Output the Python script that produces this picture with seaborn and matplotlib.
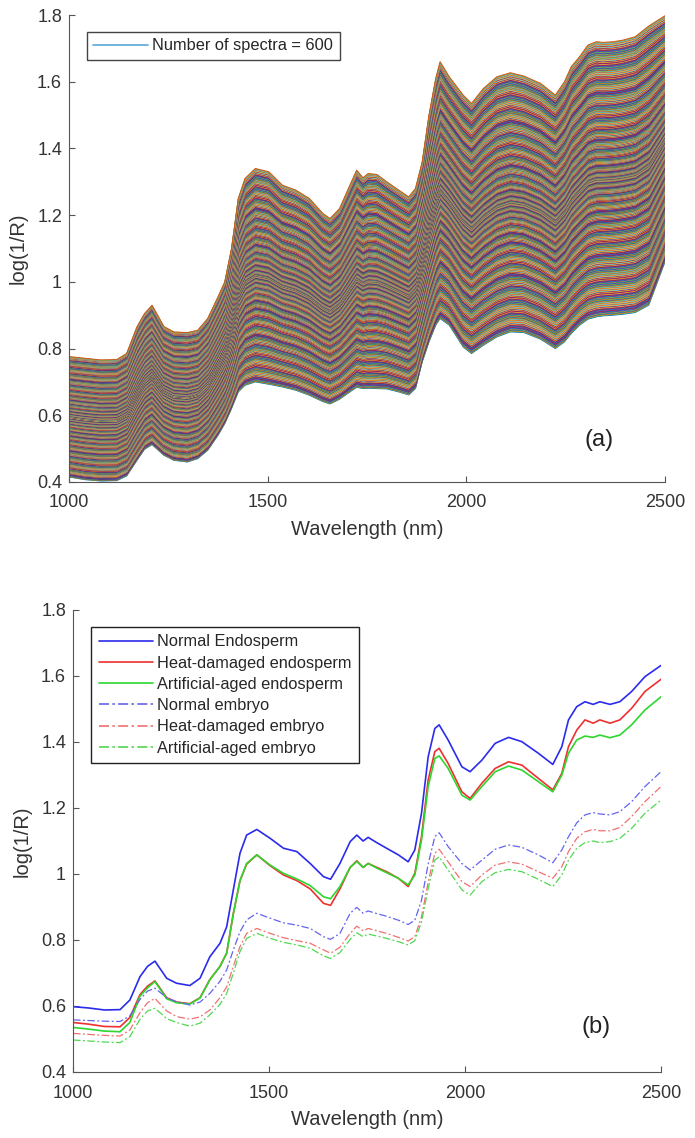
import numpy as np
import pandas as pd
import seaborn as sns
import matplotlib.pyplot as plt
from matplotlib.lines import Line2D
from matplotlib.ticker import FuncFormatter

sns.set_style("ticks")
plt.rcParams['font.family'] = ['Liberation Sans', 'DejaVu Sans']

wavelength = [1000, 1040, 1080, 1120, 1145, 1171, 1190, 1209, 1239, 1264,
              1298, 1324, 1349, 1375, 1392, 1409, 1426, 1443, 1469, 1503,
              1537, 1571, 1605, 1639, 1657, 1681, 1707, 1724, 1740, 1753,
              1775, 1800, 1830, 1855, 1872, 1889, 1906, 1923, 1934, 1957,
              1992, 2013, 2043, 2077, 2111, 2145, 2187, 2224, 2247, 2264,
              2285, 2306, 2327, 2344, 2370, 2395, 2425, 2459, 2500]

# panel (a): highest and lowest of the 600 spectra
upper_spectrum = [0.776, 0.771, 0.766, 0.767, 0.785, 0.865, 0.905, 0.93, 0.866, 0.85,
                  0.848, 0.855, 0.89, 0.955, 1.00, 1.10, 1.25, 1.31, 1.34, 1.33,
                  1.29, 1.275, 1.25, 1.205, 1.19, 1.22, 1.29, 1.335, 1.312, 1.325,
                  1.322, 1.30, 1.275, 1.255, 1.28, 1.36, 1.50, 1.61, 1.66, 1.615,
                  1.56, 1.535, 1.58, 1.615, 1.627, 1.617, 1.595, 1.56, 1.60, 1.645,
                  1.675, 1.71, 1.72, 1.718, 1.72, 1.725, 1.735, 1.767, 1.798]
lower_spectrum = [0.415, 0.407, 0.403, 0.404, 0.418, 0.465, 0.498, 0.512, 0.48, 0.465,
                  0.46, 0.47, 0.495, 0.54, 0.575, 0.62, 0.67, 0.69, 0.70, 0.693,
                  0.685, 0.675, 0.66, 0.641, 0.634, 0.648, 0.67, 0.684, 0.68, 0.681,
                  0.68, 0.679, 0.67, 0.661, 0.68, 0.76, 0.82, 0.87, 0.89, 0.87,
                  0.805, 0.785, 0.81, 0.835, 0.85, 0.848, 0.828, 0.80, 0.82, 0.845,
                  0.87, 0.888, 0.895, 0.898, 0.90, 0.903, 0.908, 0.93, 1.06]
n_spectra = 600

# panel (b): mean spectra
normal_endo = [0.598, 0.594, 0.588, 0.589, 0.618, 0.689, 0.72, 0.736, 0.684, 0.669,
               0.662, 0.684, 0.749, 0.79, 0.84, 0.952, 1.063, 1.118, 1.135, 1.108,
               1.078, 1.068, 1.032, 0.992, 0.984, 1.032, 1.098, 1.118, 1.10, 1.111,
               1.095, 1.078, 1.058, 1.037, 1.073, 1.184, 1.355, 1.441, 1.452, 1.406,
               1.325, 1.31, 1.345, 1.396, 1.414, 1.401, 1.366, 1.332, 1.386, 1.467,
               1.507, 1.522, 1.514, 1.522, 1.514, 1.522, 1.553, 1.598, 1.632]
heat_endo = [0.55, 0.545, 0.538, 0.537, 0.565, 0.635, 0.66, 0.676, 0.625, 0.612,
             0.607, 0.625, 0.68, 0.72, 0.76, 0.88, 0.98, 1.03, 1.058, 1.025,
             0.997, 0.98, 0.955, 0.911, 0.905, 0.955, 1.02, 1.04, 1.02, 1.032,
             1.02, 1.007, 0.987, 0.962, 1.002, 1.113, 1.285, 1.371, 1.381, 1.335,
             1.249, 1.229, 1.275, 1.32, 1.34, 1.33, 1.29, 1.255, 1.305, 1.386,
             1.436, 1.467, 1.457, 1.467, 1.457, 1.467, 1.502, 1.553, 1.59]
aged_endo = [0.535, 0.53, 0.524, 0.522, 0.55, 0.63, 0.655, 0.674, 0.622, 0.61,
             0.606, 0.624, 0.679, 0.72, 0.76, 0.88, 0.98, 1.032, 1.058, 1.027,
             1.002, 0.985, 0.965, 0.931, 0.925, 0.962, 1.02, 1.038, 1.02, 1.032,
             1.018, 1.004, 0.987, 0.967, 0.997, 1.103, 1.265, 1.35, 1.358, 1.32,
             1.239, 1.224, 1.265, 1.31, 1.327, 1.315, 1.28, 1.249, 1.30, 1.366,
             1.406, 1.418, 1.414, 1.421, 1.413, 1.421, 1.452, 1.497, 1.537]
normal_emb = [0.558, 0.556, 0.554, 0.553, 0.57, 0.62, 0.645, 0.654, 0.625, 0.613,
              0.603, 0.612, 0.638, 0.675, 0.709, 0.77, 0.825, 0.861, 0.881, 0.866,
              0.852, 0.845, 0.835, 0.81, 0.802, 0.82, 0.881, 0.899, 0.881, 0.888,
              0.88, 0.872, 0.86, 0.847, 0.86, 0.92, 1.03, 1.113, 1.125, 1.083,
              1.032, 1.012, 1.042, 1.075, 1.088, 1.081, 1.058, 1.034, 1.073, 1.113,
              1.155, 1.179, 1.186, 1.182, 1.179, 1.189, 1.219, 1.265, 1.31]
heat_emb = [0.517, 0.514, 0.511, 0.509, 0.527, 0.58, 0.61, 0.623, 0.585, 0.568,
            0.56, 0.567, 0.588, 0.625, 0.658, 0.72, 0.78, 0.82, 0.835, 0.82,
            0.807, 0.798, 0.79, 0.77, 0.76, 0.778, 0.82, 0.842, 0.828, 0.835,
            0.828, 0.82, 0.808, 0.797, 0.81, 0.87, 0.975, 1.063, 1.075, 1.037,
            0.977, 0.962, 0.997, 1.027, 1.037, 1.03, 1.007, 0.987, 1.022, 1.068,
            1.108, 1.128, 1.135, 1.131, 1.131, 1.141, 1.174, 1.219, 1.265]
aged_emb = [0.497, 0.494, 0.491, 0.489, 0.507, 0.56, 0.585, 0.593, 0.562, 0.55,
            0.539, 0.548, 0.573, 0.605, 0.638, 0.70, 0.765, 0.805, 0.82, 0.805,
            0.793, 0.785, 0.775, 0.752, 0.744, 0.762, 0.802, 0.822, 0.81, 0.818,
            0.812, 0.805, 0.795, 0.785, 0.798, 0.855, 0.955, 1.042, 1.052, 1.012,
            0.952, 0.936, 0.977, 1.004, 1.014, 1.007, 0.984, 0.962, 0.997, 1.042,
            1.078, 1.095, 1.10, 1.095, 1.098, 1.108, 1.138, 1.184, 1.224]
group_names = ["Normal Endosperm", "Heat-damaged endosperm", "Artificial-aged endosperm",
               "Normal embryo", "Heat-damaged embryo", "Artificial-aged embryo"]

matlab_colors = ['#0072BD', '#D95319', '#EDB120', '#7E2F8E', '#77AC30', '#4DBEEE', '#A2142F']
gray = '#555555'
text_col = '#333333'

fig = plt.figure(figsize=(6.95, 11.38), dpi=100)
ax1 = fig.add_axes([69 / 695, 1 - 482 / 1138, 596 / 695, 467 / 1138])
ax2 = fig.add_axes([73 / 695, 1 - 1072 / 1138, 588 / 695, 462 / 1138])

# ---- (a) all spectra, spread between the lowest and highest one
lo = np.array(lower_spectrum)
hi = np.array(upper_spectrum)
t = np.linspace(-1, 1, n_spectra)
frac = 0.5 + 0.5 * np.sign(t) * np.abs(t) ** 1.5
rows = []
for i, f in enumerate(frac):
    for w, v in zip(wavelength, lo + f * (hi - lo)):
        rows.append((i, w, v))
df_a = pd.DataFrame(rows, columns=['spectrum', 'wavelength', 'value'])
# mix the colour order so neighbouring spectra do not repeat a fixed cycle
pal_a = {i: matlab_colors[(i * 263 % n_spectra) % 7] for i in range(n_spectra)}
sns.lineplot(data=df_a, x='wavelength', y='value', hue='spectrum', palette=pal_a,
             estimator=None, sort=False, legend=False, linewidth=0.7, ax=ax1)
ax1.legend(handles=[Line2D([], [], color='#5aa8dc', lw=1.2)],
           labels=['Number of spectra = 600'], loc='upper left',
           bbox_to_anchor=(0.030, 0.964), borderaxespad=0, fontsize=11.8,
           fancybox=False, edgecolor='#444444', framealpha=1, handlelength=3.3,
           handletextpad=0.3, borderpad=0.4)
ax1.text(0.889, 0.09, '(a)', transform=ax1.transAxes, fontsize=17, color='#222222',
         ha='center', va='center')

# ---- (b) mean spectra
series = [normal_endo, heat_endo, aged_endo, normal_emb, heat_emb, aged_emb]
df_b = pd.DataFrame([(g, w, v) for g, vals in zip(group_names, series)
                     for w, v in zip(wavelength, vals)],
                    columns=['group', 'wavelength', 'value'])
pal_b = dict(zip(group_names, ['#2b2bec', '#ee3030', '#2ed62e',
                               '#6464ee', '#f07070', '#50d850']))
dash_b = dict(zip(group_names, ['', '', '', (6, 2, 1.5, 2), (6, 2, 1.5, 2), (6, 2, 1.5, 2)]))
sns.lineplot(data=df_b, x='wavelength', y='value', hue='group', style='group',
             palette=pal_b, dashes=dash_b, hue_order=group_names, style_order=group_names,
             estimator=None, sort=False, linewidth=1.2, ax=ax2)
for line in ax2.get_lines()[3:6]:
    line.set_linewidth(0.9)
handles, labels = ax2.get_legend_handles_labels()
ax2.legend(handles=handles, labels=labels, loc='upper left',
           bbox_to_anchor=(0.031, 0.963), borderaxespad=0, fontsize=11.8,
           fancybox=False, edgecolor='#222222', framealpha=1, handlelength=3.3,
           labelspacing=0.38, borderpad=0.45, handletextpad=0.25)
ax2.text(0.889, 0.097, '(b)', transform=ax2.transAxes, fontsize=17, color='#222222',
         ha='center', va='center')

for ax in (ax1, ax2):
    ax.set_xlim(1000, 2500)
    ax.set_ylim(0.4, 1.8)
    ax.set_xticks([1000, 1500, 2000, 2500])
    ax.set_yticks([0.4, 0.6, 0.8, 1.0, 1.2, 1.4, 1.6, 1.8])
    ax.yaxis.set_major_formatter(FuncFormatter(lambda v, p: f"{v:g}"))
    ax.tick_params(direction='in', length=4, width=0.8, color=gray,
                   labelsize=13, labelcolor=text_col)
    ax.tick_params(axis='x', pad=9)
    ax.tick_params(axis='y', pad=5)
    for s in ('top', 'right'):
        ax.spines[s].set_visible(False)
    for s in ('left', 'bottom'):
        ax.spines[s].set_color(gray)
        ax.spines[s].set_linewidth(0.8)
    ax.set_xlabel('Wavelength (nm)', fontsize=14.5, color=text_col, labelpad=6)
    ax.set_ylabel('log(1/R)', fontsize=14.5, color=text_col, labelpad=7)

fig.savefig('out.png', dpi=100)
